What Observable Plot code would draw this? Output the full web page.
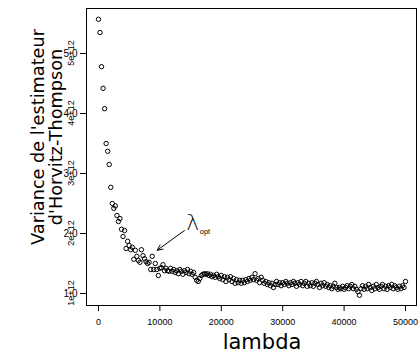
<!DOCTYPE html>
<html>
<head>
<meta charset="utf-8">
<script src="https://cdn.jsdelivr.net/npm/d3@7"></script>
<script src="https://cdn.jsdelivr.net/npm/@observablehq/plot@0.6"></script>
<style>
  html, body { margin: 0; padding: 0; background: #fff; }
  #chart { width: 419px; height: 355px; }
</style>
</head>
<body>
<div id="chart"></div>
<script>
// lambda grid (x values)
const lambda = [
  0,250,500,750,1000,1250,1500,1750,2000,2250,2500,2750,3000,3250,3500,3750,4000,4250,4500,4750,
  5000,5250,5500,5750,6000,6250,6500,6750,7000,7250,7500,7750,8000,8250,8500,8750,9000,9250,9500,9750,
  10000,10250,10500,10750,11000,11250,11500,11750,12000,12250,12500,12750,13000,13250,13500,13750,14000,14250,14500,14750,
  15000,15250,15500,15750,16000,16250,16500,16750,17000,17250,17500,17750,18000,18250,18500,18750,19000,19250,19500,19750,
  20000,20250,20500,20750,21000,21250,21500,21750,22000,22250,22500,22750,23000,23250,23500,23750,24000,24250,24500,24750,
  25000,25250,25500,25750,26000,26250,26500,26750,27000,27250,27500,27750,28000,28250,28500,28750,29000,29250,29500,29750,
  30000,30250,30500,30750,31000,31250,31500,31750,32000,32250,32500,32750,33000,33250,33500,33750,34000,34250,34500,34750,
  35000,35250,35500,35750,36000,36250,36500,36750,37000,37250,37500,37750,38000,38250,38500,38750,39000,39250,39500,39750,
  40000,40250,40500,40750,41000,41250,41500,41750,42000,42250,42500,42750,43000,43250,43500,43750,44000,44250,44500,44750,
  45000,45250,45500,45750,46000,46250,46500,46750,47000,47250,47500,47750,48000,48250,48500,48750,49000,49250,49500,49750,
  50000
];
// variance of the Horvitz-Thompson estimator, in units of 1e12
const variance = [
  5.57,5.35,4.78,4.42,4.08,3.50,3.37,3.15,2.77,2.50,2.42,2.46,2.30,2.20,2.25,2.07,1.95,2.05,1.75,1.87,
  1.80,1.73,1.77,1.57,1.72,1.62,1.55,1.52,1.73,1.63,1.58,1.53,1.50,1.52,1.40,1.62,1.40,1.50,1.40,1.30,
  1.42,1.43,1.48,1.38,1.42,1.38,1.37,1.42,1.37,1.40,1.35,1.38,1.33,1.40,1.37,1.32,1.38,1.35,1.40,1.33,
  1.37,1.32,1.35,1.27,1.22,1.20,1.25,1.30,1.32,1.33,1.32,1.33,1.30,1.32,1.28,1.30,1.27,1.32,1.28,1.25,
  1.30,1.23,1.28,1.20,1.27,1.23,1.28,1.20,1.25,1.17,1.23,1.18,1.22,1.17,1.22,1.18,1.23,1.20,1.25,1.22,
  1.27,1.23,1.33,1.22,1.25,1.18,1.27,1.22,1.17,1.20,1.15,1.18,1.13,1.17,1.10,1.15,1.20,1.15,1.18,1.13,
  1.18,1.15,1.20,1.17,1.13,1.18,1.15,1.20,1.17,1.12,1.18,1.15,1.20,1.13,1.17,1.20,1.12,1.17,1.13,1.18,
  1.12,1.17,1.20,1.15,1.10,1.17,1.13,1.18,1.12,1.15,1.10,1.13,1.08,1.12,1.17,1.10,1.07,1.10,1.08,1.12,
  1.07,1.10,1.13,1.08,1.12,1.15,1.08,1.12,1.07,1.03,0.97,1.08,1.13,1.07,1.12,1.08,1.15,1.10,1.05,1.12,
  1.08,1.15,1.10,1.07,1.12,1.15,1.08,1.12,1.07,1.13,1.10,1.15,1.08,1.13,1.10,1.07,1.12,1.08,1.13,1.10,
  1.20
];
const xTicks = [0, 10000, 20000, 30000, 40000, 50000];
const yTicks = [1, 2, 3, 4, 5];
const yTickLabels = ["1e+12", "2e+12", "3e+12", "4e+12", "5e+12"];
const xTitle = "lambda";
const yTitleLines = ["Variance de l'estimateur", "d'Horvitz-Thompson"];
// annotation: arrow to the optimum
const arrowFrom = {x: 14000, y: 2.05};
const arrowTo = {x: 9560, y: 1.72};
const optLabel = {x: 15350, y: 2.2, main: "λ", sub: "opt"};

const data = lambda.map((l, i) => ({lambda: l, v: variance[i]}));

const W = 419, H = 355;
const mL = 86, mR = 3, mT = 8, mB = 50;

const chart = Plot.plot({
  width: W,
  height: H,
  marginLeft: mL,
  marginRight: mR,
  marginTop: mT,
  marginBottom: mB,
  style: {fontFamily: "'Liberation Sans', Arial, sans-serif", background: "white", color: "black"},
  x: {domain: [-1950, 51790], label: null},
  y: {domain: [0.8, 5.75], label: null},
  marks: [
    Plot.frame({stroke: "black", strokeWidth: 1}),
    Plot.axisX({ticks: xTicks, tickSize: 6, tickPadding: 7, fontSize: 9, tickFormat: d => String(d), label: null, strokeWidth: 1}),
    Plot.axisY({ticks: yTicks, tickSize: 6, tickFormat: null, label: null, strokeWidth: 1}),
    Plot.dot(data, {x: "lambda", y: "v", r: 2.2, stroke: "black", fill: "none", strokeWidth: 1}),
    Plot.arrow([{}], {
      x1: () => arrowFrom.x, y1: () => arrowFrom.y, x2: () => arrowTo.x, y2: () => arrowTo.y,
      stroke: "black", strokeWidth: 1, headLength: 9, headAngle: 50
    }),
    Plot.text([optLabel], {x: "x", y: "y", text: "main", fontSize: 22, fontFamily: "'DejaVu Sans', sans-serif", fontWeight: 200, fill: "black", textAnchor: "middle", dy: 1}),
    Plot.text([optLabel], {x: "x", y: "y", text: "sub", fontSize: 7.5, fill: "black", textAnchor: "start", dx: 7, dy: 10})
  ]
});

document.getElementById("chart").appendChild(chart);

const svg = d3.select(chart);
const yScale = chart.scale("y");

// rotated y tick labels, placed with Plot's own y scale
yTicks.forEach((t, i) => {
  svg.append("text")
    .attr("transform", `translate(73.5,${yScale.apply(t)}) rotate(-90)`)
    .attr("text-anchor", "middle")
    .attr("font-family", "'Liberation Sans', Arial, sans-serif")
    .attr("font-size", 9)
    .attr("fill", "black")
    .text(yTickLabels[i]);
});

// axis titles (R style: xlab and two-line ylab)
svg.append("text")
  .attr("x", 262).attr("y", 349)
  .attr("text-anchor", "middle")
  .attr("font-family", "'DejaVu Sans', sans-serif")
  .attr("font-size", 21)
  .attr("fill", "black")
  .text(xTitle);
yTitleLines.forEach((line, i) => {
  svg.append("text")
    .attr("transform", `translate(${44 + i * 18},137) rotate(-90)`)
    .attr("text-anchor", "middle")
    .attr("font-family", "'DejaVu Sans', sans-serif")
    .attr("font-size", 17.7)
    .attr("fill", "black")
    .text(line);
});
</script>
</body>
</html>
